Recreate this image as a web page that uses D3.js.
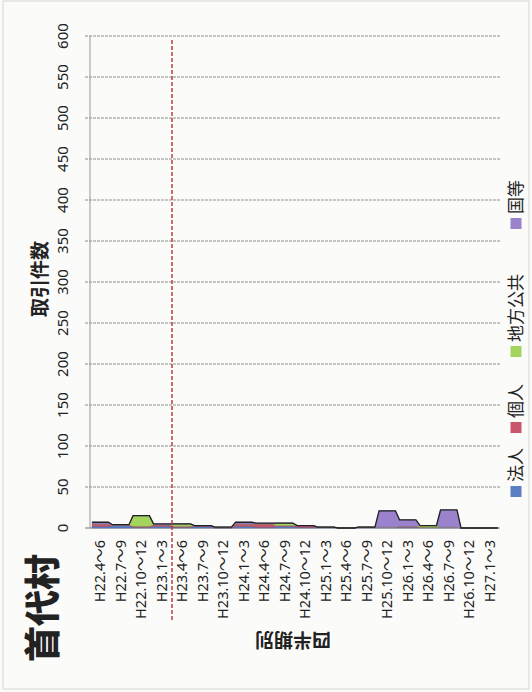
<!DOCTYPE html>
<html>
<head>
<meta charset="utf-8">
<script src="https://cdn.jsdelivr.net/npm/d3@7"></script>
<style>
  body { margin: 0; background: #fbfbf9; }
  text { font-family: 'Noto Sans', 'Noto Sans CJK JP', sans-serif; fill: #222; }
</style>
</head>
<body>
<div id="chart"></div>
<script>
// 四半期ごとの取引件数（首代村）
var categories = ["H22.4～6","H22.7～9","H22.10～12","H23.1～3","H23.4～6","H23.7～9","H23.10～12",
                  "H24.1～3","H24.4～6","H24.7～9","H24.10～12","H25.1～3","H25.4～6","H25.7～9",
                  "H25.10～12","H26.1～3","H26.4～6","H26.7～9","H26.10～12","H27.1～3"];
var houjin = [2,3,1,2,1,2,0,2,1,2,1,1,0,1,1,1,1,1,0,0];
var kojin  = [3,1,1,2,1,1,1,3,4,1,2,0,0,0,0,1,0,0,0,0];
var chihou = [0,0,13,0,3,0,0,0,0,3,0,0,0,0,0,0,2,0,0,0];
var kuni   = [2,0,0,1,0,0,0,2,1,0,0,0,0,0,20,8,0,21,0,0];
var seriesNames = ["法人","個人","地方公共","国等"];
var yTicks = [0,50,100,150,200,250,300,350,400,450,500,550,600];
var markerCategory = "H23.4～6"; // 赤の点線

var W = 532, H = 692;
var plotLeft = 90, plotRight = 500, plotTop = 36, plotBottom = 528;
var colors = ["#5a7fc4", "#c8566a", "#a3d45c", "#9a82cc"];

var svg = d3.select("#chart").append("svg")
    .attr("width", W)
    .attr("height", H);

svg.append("rect")
    .attr("x", 3).attr("y", 1)
    .attr("width", W - 6).attr("height", H - 4)
    .attr("fill", "none")
    .attr("stroke", "#d4d4d0");

var x = d3.scaleBand().domain(categories).range([plotLeft, plotRight]).padding(0);
var y = d3.scaleLinear().domain([0, 600]).range([plotBottom, plotTop]);
var step = x.step();

// gridlines
svg.append("g")
    .selectAll("line")
    .data(yTicks)
    .enter().append("line")
    .attr("x1", plotLeft - 5).attr("x2", plotRight)
    .attr("y1", function(d) { return y(d); })
    .attr("y2", function(d) { return y(d); })
    .attr("stroke", function(d) { return d === 0 ? "#777" : "#8e8e8e"; })
    .attr("stroke-width", 1)
    .attr("stroke-dasharray", function(d) { return d === 0 ? null : "3,1"; });

svg.append("line")
    .attr("x1", plotLeft).attr("x2", plotLeft)
    .attr("y1", plotTop).attr("y2", plotBottom)
    .attr("stroke", "#999");

// y tick labels (rotated)
svg.append("g")
    .selectAll("text")
    .data(yTicks)
    .enter().append("text")
    .attr("transform", function(d) { return "translate(63," + y(d) + ") rotate(-90)"; })
    .attr("text-anchor", "middle")
    .attr("dy", "0.36em")
    .style("font-size", "15px")
    .text(function(d) { return d; });

// stacked areas
var rows = categories.map(function(c, i) {
  return { cat: c, "法人": houjin[i], "個人": kojin[i], "地方公共": chihou[i], "国等": kuni[i] };
});
var stack = d3.stack().keys(seriesNames)(rows);

function expand(layer) {
  var pts = [];
  layer.forEach(function(d) {
    var x0 = x(d.data.cat);
    pts.push({ x: x0 + step * 0.1, y0: d[0], y1: d[1] });
    pts.push({ x: x0 + step * 0.9, y0: d[0], y1: d[1] });
  });
  return pts;
}

var area = d3.area()
    .x(function(p) { return p.x; })
    .y0(function(p) { return y(p.y0); })
    .y1(function(p) { return y(p.y1); });

svg.append("g")
    .selectAll("path")
    .data(stack)
    .enter().append("path")
    .attr("d", function(l) { return area(expand(l)); })
    .attr("fill", function(l, i) { return colors[i]; })
    .attr("stroke", function(l, i) { return d3.color(colors[i]).darker(0.6); })
    .attr("stroke-width", 0.5);

var topLine = d3.line()
    .x(function(p) { return p.x; })
    .y(function(p) { return y(p.y1); });

svg.append("path")
    .attr("d", topLine(expand(stack[stack.length - 1])))
    .attr("fill", "none")
    .attr("stroke", "#222")
    .attr("stroke-width", 1.3);

// category labels
svg.append("g")
    .selectAll("text")
    .data(categories)
    .enter().append("text")
    .attr("transform", function(d) { return "translate(" + (x(d) + step / 2) + ",540) rotate(-90)"; })
    .attr("text-anchor", "end")
    .attr("dy", "0.36em")
    .style("font-size", "14.5px")
    .text(function(d) { return d; });

// red dashed marker
svg.append("line")
    .attr("x1", x(markerCategory)).attr("x2", x(markerCategory))
    .attr("y1", 40).attr("y2", 622)
    .attr("stroke", "#c0303a")
    .attr("stroke-width", 1.4)
    .attr("stroke-dasharray", "4,2");

// titles
svg.append("text")
    .attr("transform", "translate(40,279) rotate(-90)")
    .attr("text-anchor", "middle")
    .attr("dy", "0.36em")
    .style("font-size", "19px")
    .style("font-weight", "bold")
    .text("取引件数");

svg.append("text")
    .attr("transform", "translate(293,640) rotate(180)")
    .attr("text-anchor", "middle")
    .attr("dy", "0.36em")
    .style("font-size", "19px")
    .style("font-weight", "bold")
    .text("四半期別");

svg.append("text")
    .attr("transform", "translate(43,608) rotate(-90)")
    .attr("text-anchor", "middle")
    .attr("dy", "0.36em")
    .style("font-size", "36px")
    .style("font-weight", "900")
    .attr("fill", "#111")
    .text("首代村");

// legend (rotated, reading bottom to top)
var legendStart = [497, 433, 357, 229];
var legend = svg.append("g")
    .selectAll("g")
    .data(seriesNames)
    .enter().append("g")
    .attr("transform", function(d, i) { return "translate(516," + legendStart[i] + ") rotate(-90)"; });

legend.append("rect")
    .attr("x", 0).attr("y", -5.5)
    .attr("width", 11).attr("height", 11)
    .attr("fill", function(d, i) { return colors[i]; });

legend.append("text")
    .attr("x", 15)
    .attr("dy", "0.36em")
    .style("font-size", "17px")
    .text(function(d) { return d; });
</script>
</body>
</html>
